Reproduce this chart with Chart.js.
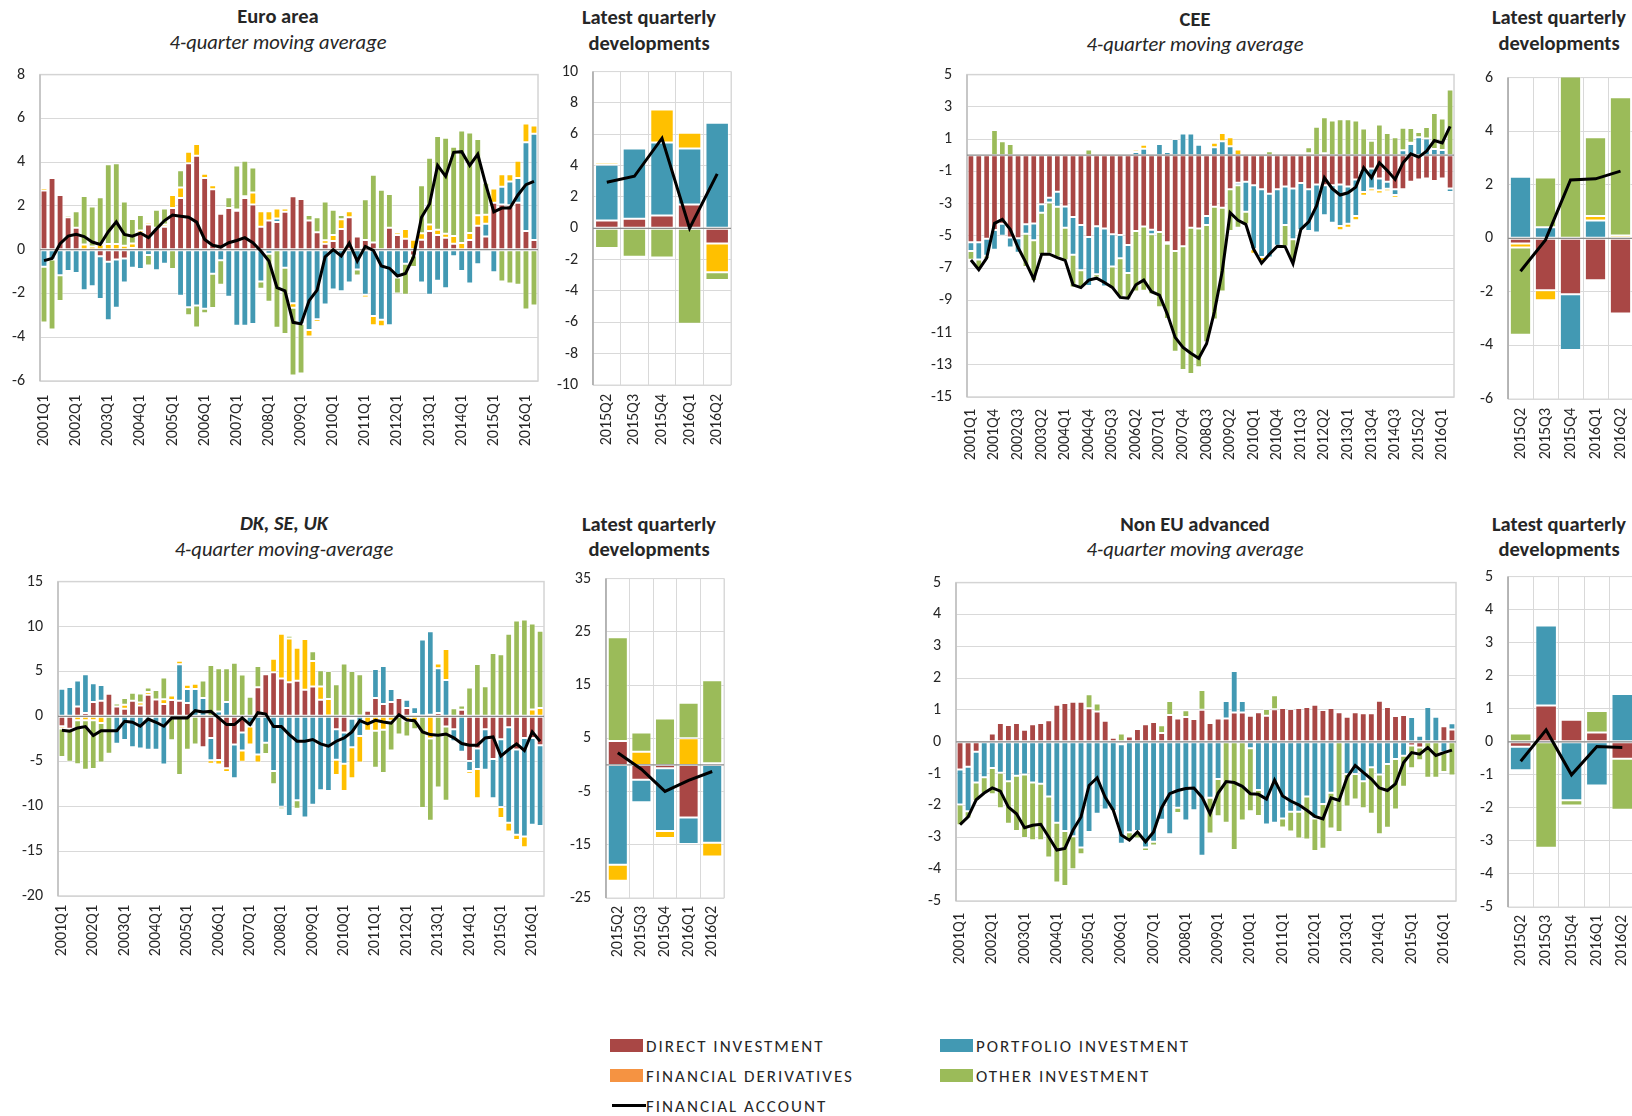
<!DOCTYPE html>
<html>
<head>
<meta charset="utf-8">
<script src="https://cdn.jsdelivr.net/npm/chart.js@4.4.1/dist/chart.umd.min.js"></script>
<style>
  html, body { margin: 0; padding: 0; background: #fff; }
  body { width: 1632px; height: 1116px; position: relative; overflow: hidden; font-family: Carlito, Lato, sans-serif; color: #262626; }
  .panel { position: absolute; }
  .title { position: absolute; transform: translate(-50%, -50%); white-space: nowrap; font-size: 20.5px; line-height: 1; }
  .bold { font-weight: bold; }
  .ital { font-style: italic; }
  .leg { position: absolute; font-size: 17px; letter-spacing: 2px; line-height: 1; transform: translateY(-50%); white-space: nowrap; }
  .sw { position: absolute; }
</style>
</head>
<body>

<div class="title bold" style="left:278px;top:16px">Euro area</div>
<div class="title ital" style="left:278px;top:42px">4-quarter moving average</div>
<div class="title bold" style="left:649px;top:17px">Latest quarterly</div>
<div class="title bold" style="left:649px;top:43px">developments</div>

<div class="title bold" style="left:1195px;top:19px">CEE</div>
<div class="title ital" style="left:1195px;top:44px">4-quarter moving average</div>
<div class="title bold" style="left:1559px;top:17px">Latest quarterly</div>
<div class="title bold" style="left:1559px;top:43px">developments</div>

<div class="title bold ital" style="left:284px;top:523px">DK, SE, UK</div>
<div class="title ital" style="left:284px;top:549px">4-quarter moving-average</div>
<div class="title bold" style="left:649px;top:524px">Latest quarterly</div>
<div class="title bold" style="left:649px;top:549px">developments</div>

<div class="title bold" style="left:1195px;top:524px">Non EU advanced</div>
<div class="title ital" style="left:1195px;top:549px">4-quarter moving average</div>
<div class="title bold" style="left:1559px;top:524px">Latest quarterly</div>
<div class="title bold" style="left:1559px;top:549px">developments</div>

<div class="sw" style="left:610px;top:1039px;width:33px;height:13px;background:#A94745"></div>
<div class="leg" style="left:646px;top:1046px">DIRECT INVESTMENT</div>
<div class="sw" style="left:610px;top:1069px;width:33px;height:13px;background:#F59342"></div>
<div class="leg" style="left:646px;top:1076px">FINANCIAL DERIVATIVES</div>
<div class="sw" style="left:612px;top:1104px;width:34px;height:3px;background:#000"></div>
<div class="leg" style="left:646px;top:1106px">FINANCIAL ACCOUNT</div>
<div class="sw" style="left:940px;top:1039px;width:33px;height:13px;background:#4299B3"></div>
<div class="leg" style="left:976px;top:1046px">PORTFOLIO INVESTMENT</div>
<div class="sw" style="left:940px;top:1069px;width:33px;height:13px;background:#9BBB59"></div>
<div class="leg" style="left:976px;top:1076px">OTHER INVESTMENT</div>

<script>
const quarters = [];
for (let y = 2001; y <= 2016; y++) {
  for (let q = 1; q <= 4; q++) {
    if (y === 2016 && q > 2) break;
    quarters.push(`${y}Q${q}`);
  }
}
const latestQuarters = ['2015Q2', '2015Q3', '2015Q4', '2016Q1', '2016Q2'];

// Euro area, 4-quarter moving average
const eaDirect = [2.70, 3.27, 2.50, 1.48, 1.00, 0.00, 0.00, -0.30, -0.55, -0.45, -0.40, 0.08, 0.76, 1.15, 1.00, 1.05,
  1.90, 2.36, 3.95, 4.29, 3.27, 2.76, 1.64, 1.90, 1.78, 2.36, 2.06, 1.05, 1.33, 1.27, 1.73, 2.44,
  2.32, 1.33, 0.80, 0.27, 0.40, 0.95, 1.48, 0.60, 0.44, 0.33, 0.00, 1.00, 0.67, 0.50, -0.27, 0.45,
  0.85, 0.67, 0.55, 0.27, 0.00, 0.44, 1.09, 0.60, 2.15, 2.06, 2.03, 2.15, 0.85, 0.44];
const eaPortfolio = [-0.78, -0.45, -1.17, -0.97, -1.06, -1.85, -1.67, -1.95, -2.67, -2.20, -1.10, -0.82, -0.88, -0.24, -0.94, -0.64,
  0.00, -2.10, -2.63, -2.55, -2.70, -1.10, -0.48, -2.15, -3.48, -3.48, -3.40, -1.45, -0.18, 0.15, -0.82, -2.45,
  -3.39, -3.67, -3.18, -2.50, -1.82, -1.90, -1.50, -0.90, -2.06, -3.03, -3.20, -3.45, -1.27, -0.64, 0.00, -1.50,
  -2.06, -1.42, -1.76, -0.30, -0.97, -1.55, -0.67, 0.58, -1.03, 0.82, 1.09, 1.12, 4.06, 4.86];
const eaDerivatives = [0.12, 0.05, 0.06, 0.00, -0.06, 0.24, 0.15, 0.24, 0.26, 0.26, 0.18, 0.20, 0.12, 0.10, 0.00, 0.10,
  0.60, 0.48, 0.53, 0.54, 0.20, 0.18, 0.09, 0.00, 0.06, 0.08, 0.55, 0.71, 0.43, 0.46, 0.15, -0.20,
  0.00, -0.30, -0.12, 0.16, 0.27, 0.44, 0.28, 0.00, -0.12, -0.42, -0.30, 0.00, 0.12, 0.44, 0.45, 0.30,
  0.30, 0.24, 0.18, 0.35, 0.30, 0.32, 0.48, 0.42, 0.64, 0.57, 0.33, 0.79, 0.85, 0.37];
const eaOther = [-2.55, -3.20, -1.17, 0.10, 0.76, 2.21, 1.82, 2.16, 3.64, 3.69, 2.02, 1.12, 0.70, -0.48, 0.82, 0.73,
  -0.88, 0.79, -0.37, -1.00, -0.20, -1.57, -1.12, 0.50, 2.01, 1.62, 1.15, -0.33, -2.20, -3.57, -3.03, -3.10,
  -2.27, 0.25, 0.68, 1.77, 1.15, 0.19, 0.00, -0.28, 1.86, 3.09, 2.74, 1.55, -0.73, -1.42, -0.52, 2.19,
  3.05, 4.29, 4.39, 4.08, 5.15, 4.60, 3.49, 1.46, -0.06, -1.45, -1.55, -1.60, -2.73, -2.55];
const eaAccount = [-0.50, -0.40, 0.27, 0.62, 0.70, 0.60, 0.35, 0.24, 0.82, 1.27, 0.70, 0.62, 0.76, 0.55, 0.95, 1.33,
  1.58, 1.53, 1.48, 1.26, 0.47, 0.20, 0.12, 0.32, 0.42, 0.55, 0.32, -0.06, -0.52, -1.73, -1.88, -3.32,
  -3.39, -2.33, -1.85, -0.33, 0.00, -0.29, 0.30, -0.52, 0.15, -0.03, -0.74, -0.85, -1.20, -1.09, -0.33, 1.48,
  2.09, 3.85, 3.35, 4.45, 4.48, 3.85, 4.36, 2.97, 1.73, 1.90, 1.90, 2.50, 2.97, 3.12];

// Euro area, latest quarters
const eaLatestDirect = [0.50, 0.61, 0.82, 1.52, -0.97];
const eaLatestPortfolio = [3.55, 4.49, 4.65, 3.57, 6.74];
const eaLatestDerivatives = [0.15, 0.00, 2.11, 1.00, -1.84];
const eaLatestOther = [-1.25, -1.82, -1.86, -6.09, -0.49];
const eaLatestAccount = [2.94, 3.32, 5.75, 0.00, 3.47];

// CEE, 4-quarter moving average
const ceeDirect = [-5.40, -5.40, -5.18, -4.64, -4.25, -5.11, -5.15, -4.29, -4.23, -3.05, -2.64, -2.27, -3.18, -3.84, -4.33, -5.07,
  -4.41, -4.54, -4.90, -4.95, -5.57, -4.70, -4.43, -4.62, -4.76, -5.40, -5.94, -5.65, -4.50, -4.54, -3.77, -3.20,
  -3.26, -2.12, -1.71, -1.65, -1.86, -2.12, -2.39, -2.12, -1.94, -2.06, -1.73, -2.12, -1.81, -1.86, -1.86, -1.81,
  -1.94, -1.50, -0.89, -0.82, -1.44, -1.65, -2.12, -2.12, -1.65, -1.50, -1.44, -1.60, -1.44, -2.06];
const ceePortfolio = [-0.54, -1.07, -1.05, -1.22, -0.74, -0.62, -0.90, -0.58, -1.05, -0.52, -0.29, -0.93, -1.32, -2.34, -2.80, -3.05,
  -2.97, -3.60, -2.00, -1.44, -1.73, 0.20, 0.40, -0.29, 0.70, 0.20, 1.00, 1.35, 1.35, 0.65, -0.56, 0.50,
  0.87, 0.56, -0.15, -1.86, -3.98, -4.20, -3.96, -3.50, -2.39, -3.15, -2.92, -2.58, -2.99, -1.86, -2.33, -2.58,
  -2.31, -2.27, -1.40, -1.24, -0.74, -0.43, -0.35, 0.30, 0.70, 1.11, 1.03, 0.39, 0.33, -0.23];
const ceeDerivatives = [0, 0, 0, 0, 0, 0, 0, 0, 0, 0, 0, 0, 0, 0, 0, 0,
  0, 0, 0, 0, 0.08, 0.14, 0.25, 0.10, 0.08, -0.10, 0, 0.08, 0.10, 0.08, 0, 0.28,
  0.51, 0.55, 0.35, 0, -0.27, -0.25, -0.10, 0, 0, 0, 0, 0.12, 0, 0.12, 0, -0.27,
  -0.25, -0.27, -0.23, -0.17, -0.20, -0.15, -0.17, 0, 0.08, -0.06, -0.08, -0.10, -0.08, -0.10];
const ceeOther = [-0.54, -0.55, -0.20, 1.57, 0.87, 0.70, 0.00, -2.06, -2.52, -2.62, -3.18, -3.15, -2.02, -2.02, -1.11, 0.36,
  -0.21, 0.10, -1.40, -2.43, -1.65, -3.75, -3.98, -3.71, -4.68, -4.66, -6.25, -7.67, -9.07, -8.62, -7.27, -7.00,
  -5.20, -2.58, -2.64, -0.78, 0.10, -0.10, 0.25, 0.00, -1.34, -1.44, 0.00, 0.37, 1.77, 2.23, 2.16, 2.23,
  2.23, 2.16, 1.65, 0.90, 1.90, 1.38, 1.11, 1.41, 0.90, 0.33, 0.72, 2.23, 1.94, 4.08];
const ceeAccount = [-6.50, -7.10, -6.39, -4.23, -3.98, -4.60, -5.73, -6.66, -7.69, -6.14, -6.14, -6.35, -6.52, -8.04, -8.21, -7.75,
  -7.63, -7.90, -8.20, -8.82, -8.87, -8.04, -7.75, -8.47, -8.68, -9.86, -11.30, -11.92, -12.29, -12.60, -11.70, -9.70,
  -7.18, -3.57, -4.04, -4.29, -5.84, -6.70, -6.14, -5.65, -5.67, -6.72, -4.60, -4.14, -3.15, -1.40, -2.08, -2.47,
  -2.33, -1.98, -0.78, -1.40, -0.47, -0.95, -1.50, -0.47, 0.08, -0.12, 0.25, 0.91, 0.76, 1.79];

// CEE, latest quarters
const ceeLatestDirect = [-0.19, -1.94, -2.09, -1.57, -2.81];
const ceeLatestPortfolio = [2.30, 0.41, -2.08, 0.66, 0.00];
const ceeLatestDerivatives = [-0.15, -0.37, 0.00, 0.17, 0.10];
const ceeLatestOther = [-3.26, 1.86, 6.30, 2.94, 5.17];
const ceeLatestAccount = [-1.23, -0.06, 2.18, 2.22, 2.51];

// DK, SE, UK, 4-quarter moving average
const dkDirect = [-1.10, -1.37, 1.10, 0.37, 1.59, 1.73, 2.51, 1.10, 0.85, 1.73, 1.22, 2.40, 1.88, 1.37, 1.81, 1.73,
  1.48, 0.00, -3.43, -2.40, -4.87, -5.79, -3.14, -1.81, 0.00, 3.25, 4.69, 4.91, 4.21, 3.80, 3.95, 2.95,
  3.32, 1.85, 0.10, -1.44, -1.81, -0.26, 0.10, 0.63, 2.03, 1.37, 1.59, 2.03, 0.92, 0.26, 0.10, 0.18,
  0.37, -1.14, -1.44, 0.74, -4.98, -3.58, -1.44, -4.76, -2.55, -1.22, -3.69, -2.40, -2.40, -3.21];
const dkPortfolio = [3.06, 3.28, 2.90, 4.32, 2.10, 1.77, 0.00, -3.06, -2.62, -3.43, -3.58, -3.73, -3.73, -5.35, 0.00, 4.06,
  1.55, 3.03, 2.03, -2.50, 0.55, 1.59, -3.76, -1.99, -1.14, -4.24, -2.95, -6.09, -10.07, -11.10, -9.34, -11.25,
  -9.85, -8.23, -8.30, -3.39, -3.47, -3.17, -2.18, 0.00, 3.25, 4.24, 1.44, 0.00, 0.93, 0.74, 8.46, 9.30,
  4.98, 4.05, -1.33, -3.95, -1.10, -2.29, -4.50, -4.35, -7.53, -10.63, -9.48, -10.99, -9.67, -9.00];
const dkDerivatives = [-0.26, 0.10, -0.44, -0.44, -0.44, -0.74, 0.00, -0.15, 0.44, 0.00, 0.33, 0.30, 0.00, 0.52, 0.51, 0.41,
  0.48, 0.59, -0.15, -0.37, -0.48, -0.41, -0.15, -1.25, -1.99, -0.89, 0.00, 1.51, 4.98, 4.87, 3.69, 5.65,
  2.84, 1.48, 1.84, -1.70, -3.03, -3.47, -2.95, -1.59, -1.59, -1.48, -0.48, 0.15, -0.48, -0.48, 0.00, -2.47,
  0.52, 3.44, -0.18, 0.00, -0.30, -3.25, 0.00, -0.22, -1.25, -0.96, -0.59, -1.18, 0.77, 0.92];
const dkOther = [-3.17, -3.69, -4.90, -5.50, -5.42, -4.39, -4.17, 0.33, 0.74, 0.89, 1.00, 0.51, 1.04, 2.43, -2.66, -6.53,
  -3.73, -3.14, 1.96, 5.72, 4.80, 3.76, 5.98, 4.65, 2.18, 2.36, -1.25, -1.48, -0.26, 0.30, -0.96, 0.07,
  1.10, 1.80, 3.10, 3.58, 5.87, 5.06, 4.59, 0.15, -4.13, -4.83, -3.32, -2.03, -1.77, -0.96, -10.20, -9.15,
  -7.93, -8.27, 0.89, 0.48, 3.21, 5.83, 3.36, 7.05, 6.90, 9.19, 10.66, 10.77, 9.56, 8.60];
const dkAccount = [-1.55, -1.66, -1.29, -1.14, -2.14, -1.59, -1.59, -1.59, -0.55, -0.66, -1.10, -0.30, -0.66, -1.10, -0.18, -0.18,
  -0.18, 0.63, 0.48, 0.55, -0.18, -0.92, -0.92, -0.18, -0.92, 0.41, 0.26, -1.14, -1.14, -2.03, -2.77, -2.77,
  -2.58, -3.06, -3.32, -2.77, -2.40, -1.73, -0.48, -0.85, -0.44, -0.63, -0.77, 0.18, -0.41, -0.48, -1.73, -2.03,
  -2.10, -1.96, -2.40, -3.03, -3.21, -3.21, -2.40, -2.29, -4.43, -3.69, -3.06, -3.80, -1.73, -2.77];

// DK, SE, UK, latest quarters
const dkLatestDirect = [4.47, -2.80, -0.62, -9.88, 0.30];
const dkLatestPortfolio = [-18.76, -4.22, -11.80, -4.97, -14.60];
const dkLatestDerivatives = [-2.98, 2.48, -1.30, 5.03, -2.60];
const dkLatestOther = [19.50, 3.60, 8.70, 6.65, 15.60];
const dkLatestAccount = [2.30, -0.80, -4.97, -2.90, -1.24];

// Non EU advanced, 4-quarter moving average
const neDirect = [-0.87, -0.78, -0.31, 0.06, 0.26, 0.59, 0.53, 0.59, 0.38, 0.55, 0.59, 0.68, 1.16, 1.22, 1.26, 1.26,
  1.05, 0.95, 0.66, 0.13, -0.08, 0.17, 0.40, 0.55, 0.62, 0.28, 0.84, 0.73, 0.78, 0.72, 1.01, 0.59,
  0.73, 0.73, 0.92, 0.92, 0.82, 0.93, 0.82, 1.02, 1.06, 1.03, 1.06, 1.09, 1.16, 1.00, 1.06, 0.93,
  0.79, 0.93, 0.90, 0.90, 1.29, 1.09, 0.81, 0.84, -0.12, -0.18, 0.00, 0.00, 0.49, 0.39];
const nePortfolio = [-1.10, -1.40, -0.97, -1.11, -0.82, -0.97, -1.24, -1.07, -1.03, -1.28, -1.32, -1.72, -2.54, -2.80, -2.97, -3.32,
  -2.83, -2.26, -2.13, -2.17, -3.12, -2.84, -2.80, -3.32, -3.14, -2.45, -2.90, -2.07, -2.47, -2.15, -3.58, -1.76,
  -1.17, 0.55, 1.30, 0.36, -0.20, -1.51, -2.60, -2.54, -2.41, -2.20, -2.20, -1.72, -2.41, -1.95, -1.60, 0.00,
  -1.01, -1.01, -1.24, -0.80, -1.03, -0.70, -0.54, -0.44, 0.78, 0.19, 1.09, 0.79, -0.33, 0.19];
const neDerivatives = [0, 0, 0, 0, 0, 0, 0, 0, 0, 0, 0, 0, 0, 0, 0, 0,
  0, 0, 0, 0, 0, 0, 0, 0, 0, 0, 0, 0, 0, 0, 0, 0,
  0, 0, 0, 0, 0, 0, 0, 0, 0, 0, 0, 0, 0, 0, 0, 0,
  0, 0, 0, 0, 0, 0, 0, 0, 0, 0, 0, 0, 0, 0];
const neOther = [-0.65, -0.23, -0.58, -0.52, -0.83, -1.12, -1.33, -1.73, -1.99, -1.81, -1.77, -1.91, -1.88, -1.73, -1.03, -0.21,
  0.44, 0.25, -0.06, 0.03, 0.26, -0.27, -0.24, -0.11, -0.12, 0.24, 0.44, -0.17, 0.21, 0.00, 0.62, -1.12,
  -1.17, -2.54, -3.40, -2.47, -1.98, -0.82, 0.21, 0.44, -0.28, -0.62, -0.84, -1.35, -1.02, -1.41, -1.12, -2.83,
  -1.02, -0.80, -0.85, -1.46, -1.87, -2.00, -1.59, -0.97, -0.71, -0.40, -1.13, -1.13, -0.62, -1.06];
const neAccount = [-2.60, -2.36, -1.82, -1.61, -1.45, -1.55, -2.05, -2.26, -2.70, -2.62, -2.59, -2.99, -3.40, -3.35, -2.78, -2.36,
  -1.37, -1.13, -1.74, -2.15, -2.93, -3.09, -2.83, -3.14, -2.83, -2.07, -1.63, -1.53, -1.47, -1.45, -1.74, -2.26,
  -1.61, -1.25, -1.28, -1.40, -1.63, -1.65, -1.80, -1.20, -1.70, -1.86, -1.98, -2.15, -2.34, -2.42, -1.76, -1.84,
  -1.11, -0.74, -0.96, -1.17, -1.45, -1.53, -1.32, -0.65, -0.34, -0.39, -0.18, -0.43, -0.34, -0.26];

// Non EU advanced, latest quarters
const neLatestDirect = [-0.15, 1.10, 0.67, 0.28, -0.51];
const neLatestPortfolio = [-0.71, 2.42, -1.77, -1.32, 1.45];
const neLatestDerivatives = [0, 0, 0, 0, 0];
const neLatestOther = [0.25, -3.21, -0.16, 0.65, -1.55];
const neLatestAccount = [-0.59, 0.36, -1.00, -0.14, -0.17];

const RED = '#A94745';
const BLUE = '#4299B3';
const GOLD = '#FFC000';
const GREEN = '#9BBB59';
const GRID = '#D9D9D9';
const TICK_FONT = { family: 'Carlito, Lato, sans-serif', size: 16 };

const AXIS_W = 45;
const PAD_T = 10;
const PAD_R = 6;
const X_H = 80;
const TOP_FIX = 13; // chart.js sits the plot this much lower than the padding says

const framePlugin = {
  id: 'frame',
  beforeDatasetsDraw(chart, args, opts) {
    const { ctx, chartArea: a } = chart;
    ctx.save();
    ctx.strokeStyle = opts.small ? GRID : '#D4D4D4';
    ctx.lineWidth = opts.small ? 1 : 1.5;
    ctx.strokeRect(a.left, a.top, a.right - a.left, a.bottom - a.top);
    ctx.strokeStyle = opts.small ? '#A6A6A6' : '#BFBFBF';
    ctx.lineWidth = 1.5;
    ctx.beginPath();
    ctx.moveTo(a.left, a.top);
    ctx.lineTo(a.left, a.bottom);
    ctx.stroke();
    ctx.restore();
  },
  beforeDatasetDraw(chart, args) {
    if (args.meta.type !== 'line') return;
    const { ctx, chartArea: a, scales } = chart;
    const y0 = scales.y.getPixelForValue(0);
    ctx.save();
    ctx.strokeStyle = '#8C8C8C';
    ctx.lineWidth = 1.3;
    ctx.beginPath();
    ctx.moveTo(a.left, y0);
    ctx.lineTo(a.right, y0);
    ctx.stroke();
    ctx.restore();
  },
};

function bar(label, data, color) {
  return {
    type: 'bar', label, data,
    backgroundColor: color,
    borderColor: 'rgba(255,255,255,0.55)',
    borderWidth: 1,
    borderSkipped: false,
    stack: 'bop',
    order: 1,
    barPercentage: 0.85,
    categoryPercentage: 1,
  };
}

function makePanel(box, labels, series, yMin, yMax, yStep, labelEvery, small, labelGap) {
  const wrap = document.createElement('div');
  wrap.className = 'panel';
  wrap.style.left = (box.l - AXIS_W) + 'px';
  wrap.style.top = (box.t - PAD_T - TOP_FIX) + 'px';
  wrap.style.width = (box.r - box.l + AXIS_W + PAD_R) + 'px';
  wrap.style.height = (box.b - box.t + PAD_T + TOP_FIX + X_H) + 'px';
  const canvas = document.createElement('canvas');
  wrap.appendChild(canvas);
  document.body.appendChild(wrap);

  return new Chart(canvas.getContext('2d'), {
    type: 'bar',
    data: {
      labels,
      datasets: [
        bar('Direct investment', series[0], RED),
        bar('Portfolio investment', series[1], BLUE),
        bar('Financial derivatives', series[2], GOLD),
        bar('Other investment', series[3], GREEN),
        {
          type: 'line', label: 'Financial account', data: series[4],
          borderColor: '#000', borderWidth: 3, pointRadius: 0, tension: 0,
          fill: false, stack: 'fa', order: 0,
        },
      ],
    },
    options: {
      responsive: true,
      maintainAspectRatio: false,
      animation: false,
      devicePixelRatio: 1,
      layout: { padding: { top: PAD_T, right: PAD_R, left: 0, bottom: 0 } },
      plugins: {
        legend: { display: false },
        tooltip: { enabled: false },
        frame: { small },
      },
      scales: {
        x: {
          stacked: true,
          offset: true,
          grid: { display: small, offset: true, color: GRID, drawTicks: false },
          border: { display: false },
          ticks: {
            autoSkip: false,
            maxRotation: 90,
            minRotation: 90,
            padding: labelGap,
            color: '#262626',
            font: TICK_FONT,
            callback(value, index) {
              return index % labelEvery === 0 ? this.getLabelForValue(value) : '';
            },
          },
          afterFit(scale) {
            scale.height = X_H;
            scale.paddingLeft = 0;
            scale.paddingRight = 0;
          },
        },
        y: {
          stacked: true,
          min: yMin,
          max: yMax,
          grid: { color: GRID, drawTicks: false },
          border: { display: false },
          ticks: { stepSize: yStep, maxTicksLimit: 40, padding: 15, color: '#262626', font: TICK_FONT },
          afterFit(scale) { scale.width = AXIS_W; },
        },
      },
    },
    plugins: [framePlugin],
  });
}

makePanel({ l: 40, t: 73, r: 538, b: 381 }, quarters,
  [eaDirect, eaPortfolio, eaDerivatives, eaOther, eaAccount], -6, 8, 2, 4, false, 14);
makePanel({ l: 593, t: 70, r: 731, b: 385 }, latestQuarters,
  [eaLatestDirect, eaLatestPortfolio, eaLatestDerivatives, eaLatestOther, eaLatestAccount], -10, 10, 2, 1, true, 9);

makePanel({ l: 967, t: 73, r: 1454, b: 397 }, quarters,
  [ceeDirect, ceePortfolio, ceeDerivatives, ceeOther, ceeAccount], -15, 5, 2, 3, false, 12);
makePanel({ l: 1508, t: 76, r: 1633, b: 399 }, latestQuarters,
  [ceeLatestDirect, ceeLatestPortfolio, ceeLatestDerivatives, ceeLatestOther, ceeLatestAccount], -6, 6, 2, 1, true, 9);

makePanel({ l: 58, t: 580, r: 544, b: 896 }, quarters,
  [dkDirect, dkPortfolio, dkDerivatives, dkOther, dkAccount], -20, 15, 5, 4, false, 9);
makePanel({ l: 606, t: 577, r: 724, b: 898 }, latestQuarters,
  [dkLatestDirect, dkLatestPortfolio, dkLatestDerivatives, dkLatestOther, dkLatestAccount], -25, 35, 10, 1, true, 8);

makePanel({ l: 956, t: 581, r: 1456, b: 901 }, quarters,
  [neDirect, nePortfolio, neDerivatives, neOther, neAccount], -5, 5, 1, 4, false, 12);
makePanel({ l: 1508, t: 575, r: 1635, b: 907 }, latestQuarters,
  [neLatestDirect, neLatestPortfolio, neLatestDerivatives, neLatestOther, neLatestAccount], -5, 5, 1, 1, true, 8);
</script>
</body>
</html>
